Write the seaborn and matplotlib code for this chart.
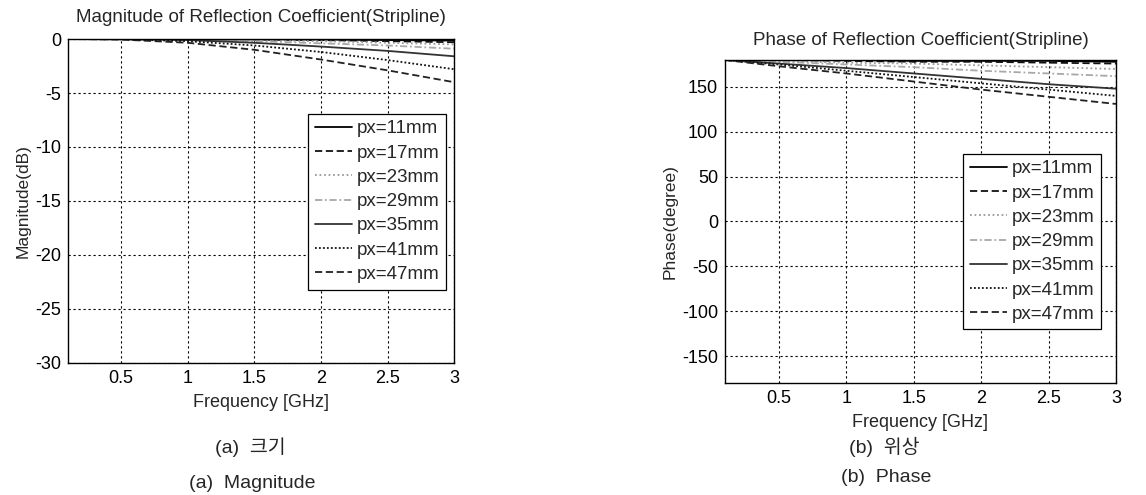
import matplotlib
matplotlib.use("Agg")
import matplotlib.pyplot as plt
import seaborn as sns
import numpy as np
import pandas as pd

sns.set_style("white")
plt.rcParams['font.family'] = ['Liberation Sans', 'Noto Sans CJK KR', 'DejaVu Sans']

freq = [0.1, 0.5, 1.0, 1.5, 2.0, 2.5, 3.0]
labels = ["px=11mm", "px=17mm", "px=23mm", "px=29mm", "px=35mm", "px=41mm", "px=47mm"]

mag_11 = [0, 0, -0.01, -0.02, -0.05, -0.10, -0.15]
mag_17 = [0, 0, -0.02, -0.05, -0.10, -0.20, -0.30]
mag_23 = [0, 0, -0.03, -0.10, -0.20, -0.35, -0.50]
mag_29 = [0, -0.01, -0.05, -0.20, -0.40, -0.60, -0.90]
mag_35 = [0, -0.02, -0.10, -0.35, -0.70, -1.10, -1.60]
mag_41 = [0, -0.03, -0.20, -0.60, -1.20, -1.95, -2.80]
mag_47 = [0, -0.05, -0.35, -1.00, -1.90, -2.90, -4.00]

ph_11 = [180, 180, 180, 179, 179, 179, 178]
ph_17 = [180, 180, 179, 178, 178, 177, 176]
ph_23 = [180, 179, 177, 176, 174, 172, 170]
ph_29 = [180, 178, 175, 172, 168, 165, 162]
ph_35 = [180, 176, 171, 165, 159, 153, 148]
ph_41 = [180, 175, 168, 161, 154, 147, 140]
ph_47 = [180, 173, 165, 156, 147, 139, 131]

mags = [mag_11, mag_17, mag_23, mag_29, mag_35, mag_41, mag_47]
phs = [ph_11, ph_17, ph_23, ph_29, ph_35, ph_41, ph_47]

colors = ["#000000", "#111111", "#9a9a9a", "#a8a8a8", "#333333", "#111111", "#222222"]
styles = ["-", (0, (4, 2)), (0, (1, 1.5)), (0, (4, 1.5, 1, 1.5)), "-", (0, (1, 1.2)), (0, (4, 2))]

fig = plt.figure(figsize=(11.46, 4.95), dpi=100)
ax1 = fig.add_axes([0.0593, 0.2667, 0.337, 0.6545])
ax2 = fig.add_axes([0.6326, 0.2263, 0.3412, 0.6525])

def draw(ax, series, title, ylabel, ylim, yticks, leg_anchor, title_pad):
    for vals, lab, c, ls in zip(series, labels, colors, styles):
        df = pd.DataFrame({"f": freq, "v": vals})
        sns.lineplot(data=df, x="f", y="v", ax=ax, color=c, linestyle=ls,
                     linewidth=1.3, label=lab)
    ax.set_xlim(0.1, 3)
    ax.set_ylim(*ylim)
    ax.set_xticks([0.5, 1, 1.5, 2, 2.5, 3])
    ax.set_xticklabels(["0.5", "1", "1.5", "2", "2.5", "3"])
    ax.set_yticks(yticks)
    ax.set_yticklabels([str(t) for t in yticks])
    ax.grid(True, color="black", linestyle=(0, (2, 2.5)), linewidth=0.8)
    for s in ax.spines.values():
        s.set_color("black")
        s.set_linewidth(1.0)
    ax.tick_params(axis="both", labelsize=13, direction="in", length=4,
                   color="black", labelcolor="black", pad=5)
    ax.set_title(title, fontsize=13.5, pad=title_pad)
    ax.set_xlabel("Frequency [GHz]", fontsize=13, labelpad=5)
    ax.set_ylabel(ylabel, fontsize=12.5, labelpad=3)
    leg = ax.legend(loc="center right", bbox_to_anchor=leg_anchor, fontsize=13.5,
                    frameon=True, fancybox=False, framealpha=1, edgecolor="black",
                    handlelength=2.0, handletextpad=0.25, borderpad=0.35,
                    labelspacing=0.38, borderaxespad=0)
    leg.get_frame().set_linewidth(0.9)

draw(ax1, mags, "Magnitude of Reflection Coefficient(Stripline)", "Magnitude(dB)",
     (-30, 0), [-30, -25, -20, -15, -10, -5, 0], (0.979, 0.498), 12)
draw(ax2, phs, "Phase of Reflection Coefficient(Stripline)", "Phase(degree)",
     (-180, 180), [-150, -100, -50, 0, 50, 100, 150], (0.962, 0.438), 11)

fig.text(250 / 1146, 1 - 447 / 495, "(a)  크기", ha="center", va="center", fontsize=14)
fig.text(252 / 1146, 1 - 483 / 495, "(a)  Magnitude", ha="center", va="center", fontsize=14)
fig.text(884 / 1146, 1 - 447 / 495, "(b)  위상", ha="center", va="center", fontsize=14)
fig.text(886 / 1146, 1 - 478 / 495, "(b)  Phase", ha="center", va="center", fontsize=14)

fig.savefig("out.png", dpi=100, facecolor="white")
